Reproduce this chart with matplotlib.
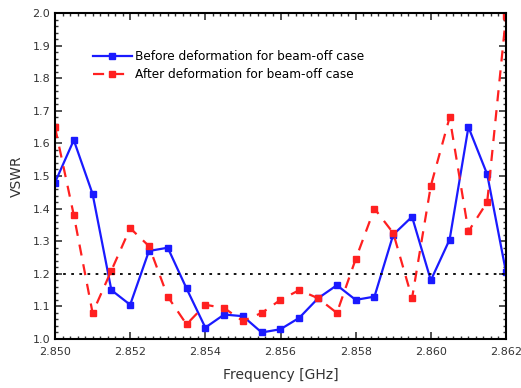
import matplotlib
matplotlib.use("Agg")
import matplotlib.pyplot as plt
from matplotlib.ticker import MultipleLocator

# frequency points [GHz]
freq = [2.8500, 2.8505, 2.8510, 2.8515, 2.8520, 2.8525, 2.8530, 2.8535, 2.8540,
        2.8545, 2.8550, 2.8555, 2.8560, 2.8565, 2.8570, 2.8575, 2.8580, 2.8585,
        2.8590, 2.8595, 2.8600, 2.8605, 2.8610, 2.8615, 2.8620]

# VSWR before deformation (beam-off)
vswr_before = [1.48, 1.61, 1.445, 1.15, 1.105, 1.27, 1.28, 1.155, 1.035,
               1.075, 1.07, 1.02, 1.03, 1.065, 1.125, 1.165, 1.12, 1.13,
               1.32, 1.375, 1.18, 1.305, 1.65, 1.505, 1.205]

# VSWR after deformation (beam-off)
vswr_after = [1.65, 1.38, 1.08, 1.21, 1.34, 1.285, 1.13, 1.045, 1.105,
              1.095, 1.055, 1.08, 1.12, 1.15, 1.125, 1.08, 1.245, 1.40,
              1.325, 1.125, 1.47, 1.68, 1.33, 1.42, 1.99]

limit = 1.2

fig = plt.figure(figsize=(5.21, 3.88), dpi=100)
ax = fig.add_axes([55/521, 1 - 339/388, 451/521, 326/388])

ax.plot(freq, vswr_before, '-s', color='#1a1aff', lw=1.6, ms=5,
        label='Before deformation for beam-off case')
ax.plot(freq, vswr_after, '--s', color='#ff2020', lw=1.6, ms=5,
        dashes=(5, 4), label='After deformation for beam-off case')
ax.axhline(limit, color='black', ls=(0, (1.5, 3)), lw=1.3)

ax.set_xlim(2.850, 2.862)
ax.set_ylim(1.0, 2.0)
ax.xaxis.set_major_locator(MultipleLocator(0.002))
ax.xaxis.set_minor_locator(MultipleLocator(0.0002))
ax.yaxis.set_major_locator(MultipleLocator(0.1))
ax.yaxis.set_minor_locator(MultipleLocator(0.02))
ax.xaxis.set_major_formatter(plt.FormatStrFormatter('%.3f'))
ax.yaxis.set_major_formatter(plt.FormatStrFormatter('%.1f'))
ax.tick_params(which='both', direction='in', top=True, right=True, labelsize=8, colors='#333333')
ax.tick_params(axis='x', pad=6)
ax.tick_params(which='major', length=5, width=1.2)
ax.tick_params(which='minor', length=2.5, width=1)
for s in ax.spines.values():
    s.set_linewidth(1.5)

ax.set_xlabel('Frequency [GHz]', fontsize=10, color='#333333', labelpad=8)
ax.set_ylabel('VSWR', fontsize=10, color='#333333', labelpad=6)

ax.legend(loc='upper left', bbox_to_anchor=(0.06, 0.92), frameon=False,
          fontsize=8.7, handlelength=3.2, handletextpad=0.3, labelspacing=0.45)

fig.savefig('out.png', dpi=100)
